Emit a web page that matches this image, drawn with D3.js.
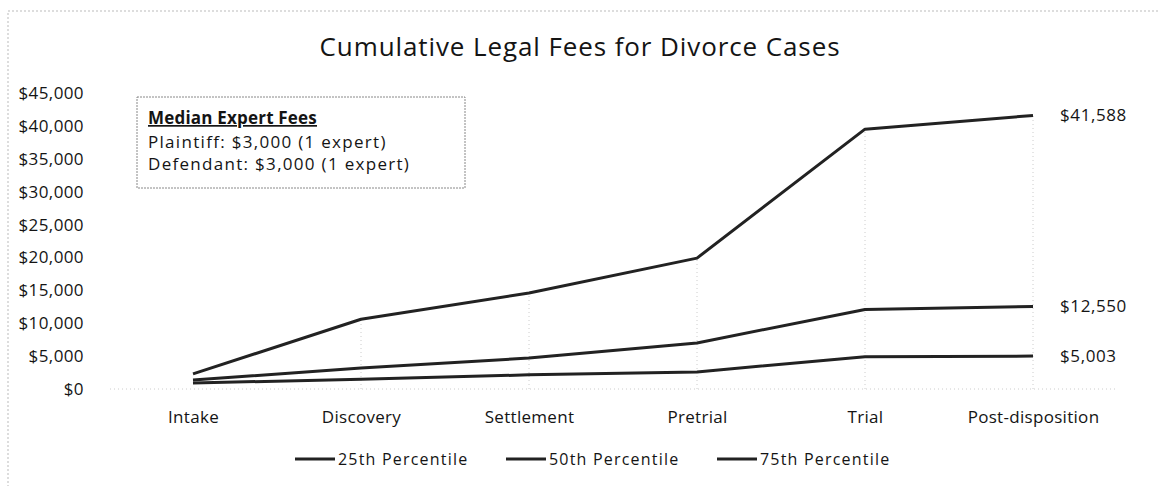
<!DOCTYPE html>
<html lang="en">
<head>
    <meta charset="UTF-8">
    <title>Cumulative Legal Fees for Divorce Cases</title>
    <script src="https://d3js.org/d3.v7.min.js"></script>
    <style>
        body { margin: 0; background: #fff; }
        svg { display: block; font-family: "Open Sans", Lato, sans-serif; }
    </style>
</head>
<body>
    <svg width="1158" height="486"></svg>

    <script>
        // Data
        const stages = ["Intake", "Discovery", "Settlement", "Pretrial", "Trial", "Post-disposition"];
        const p25 = [900, 1500, 2150, 2600, 4900, 5003];
        const p50 = [1350, 3200, 4700, 7000, 12100, 12550];
        const p75 = [2300, 10600, 14600, 19900, 39500, 41588];
        const seriesNames = ["25th Percentile", "50th Percentile", "75th Percentile"];
        const yTicks = [0, 5000, 10000, 15000, 20000, 25000, 30000, 35000, 40000, 45000];
        const endLabels = ["$5,003", "$12,550", "$41,588"];
        const boxTitle = "Median Expert Fees";
        const boxLines = ["Plaintiff: $3,000 (1 expert)", "Defendant: $3,000 (1 expert)"];

        const series = [p25, p50, p75];
        const svg = d3.select("svg");
        const ink = "#141414";

        // faint outer frame of the scanned chart
        svg.append("rect")
           .attr("x", 8).attr("y", 11)
           .attr("width", 1170).attr("height", 500)
           .attr("fill", "none")
           .attr("stroke", "#bbb")
           .attr("stroke-dasharray", "2,2");

        // Title
        svg.append("text")
           .attr("x", 580).attr("y", 56)
           .attr("text-anchor", "middle")
           .style("font-size", "26px")
           .style("letter-spacing", "0.9px")
           .attr("fill", ink)
           .text("Cumulative  Legal Fees for Divorce Cases");

        // Scales
        const x = d3.scalePoint().domain(stages).range([193, 1033]);
        const y = d3.scaleLinear().domain([0, 45000]).range([389, 93]);

        // Y axis labels
        const yAxis = svg.append("g")
           .attr("transform", "translate(84,0)")
           .call(d3.axisLeft(y).tickValues(yTicks).tickSize(0).tickPadding(0)
                 .tickFormat(d => "$" + d3.format(",")(d)));
        yAxis.select(".domain").remove();
        yAxis.selectAll("text")
             .style("font-family", "'Open Sans', Lato, sans-serif")
             .style("font-size", "17px")
             .style("letter-spacing", "0.4px")
             .attr("fill", ink);

        // vertical drop lines at each stage
        svg.append("g").selectAll("line")
           .data(stages.slice(1))
           .enter().append("line")
           .attr("x1", d => x(d)).attr("x2", d => x(d))
           .attr("y1", y(0)).attr("y2", d => y(p75[stages.indexOf(d)]))
           .attr("stroke", "#ccc")
           .attr("stroke-dasharray", "1,3");

        // baseline
        svg.append("line")
           .attr("x1", 110).attr("x2", 1118)
           .attr("y1", y(0)).attr("y2", y(0))
           .attr("stroke", "#ccc")
           .attr("stroke-dasharray", "1,3");

        // X axis labels
        const xAxis = svg.append("g")
           .attr("transform", `translate(0,${y(0)})`)
           .call(d3.axisBottom(x).tickSize(0).tickPadding(22));
        xAxis.select(".domain").remove();
        xAxis.selectAll("text")
             .style("font-family", "'Open Sans', Lato, sans-serif")
             .style("font-size", "17px")
             .style("letter-spacing", "0.3px")
             .attr("fill", ink);

        // Lines
        const line = d3.line()
                       .x((d, i) => x(stages[i]))
                       .y(d => y(d));

        svg.append("g").selectAll("path")
           .data(series)
           .enter().append("path")
           .attr("d", line)
           .attr("fill", "none")
           .attr("stroke", "#222")
           .attr("stroke-width", 3)
           .attr("stroke-linejoin", "round");

        // End value labels
        svg.append("g").selectAll("text")
           .data(series)
           .enter().append("text")
           .attr("x", 1060)
           .attr("y", d => y(d[d.length - 1]) + 6)
           .style("font-size", "17px")
           .style("letter-spacing", "0.6px")
           .attr("fill", ink)
           .text((d, i) => endLabels[i]);

        // Text box
        svg.append("rect")
           .attr("x", 137).attr("y", 97)
           .attr("width", 328).attr("height", 91)
           .attr("fill", "#fff")
           .attr("stroke", "#888")
           .attr("stroke-dasharray", "2,1");

        svg.append("text")
           .attr("x", 148).attr("y", 124)
           .style("font-size", "17px")
           .style("font-weight", "bold")
           .style("letter-spacing", "0.2px")
           .style("text-decoration", "underline")
           .attr("fill", ink)
           .text(boxTitle);

        svg.append("g").selectAll("text")
           .data(boxLines)
           .enter().append("text")
           .attr("x", 148)
           .attr("y", (d, i) => 148 + i * 22)
           .style("font-size", "17px")
           .style("letter-spacing", "1.3px")
           .attr("fill", ink)
           .text(d => d);

        // Legend
        const legendX = [295, 506, 717];
        const legend = svg.append("g").selectAll("g")
           .data(seriesNames)
           .enter().append("g")
           .attr("transform", (d, i) => `translate(${legendX[i]},459)`);

        legend.append("line")
              .attr("x1", 0).attr("x2", 40)
              .attr("stroke", "#222")
              .attr("stroke-width", 3);

        legend.append("text")
              .attr("x", 43)
              .attr("y", 6)
              .style("font-size", "16px")
              .style("letter-spacing", "1.2px")
              .attr("fill", ink)
              .text(d => d);
    </script>
</body>
</html>
